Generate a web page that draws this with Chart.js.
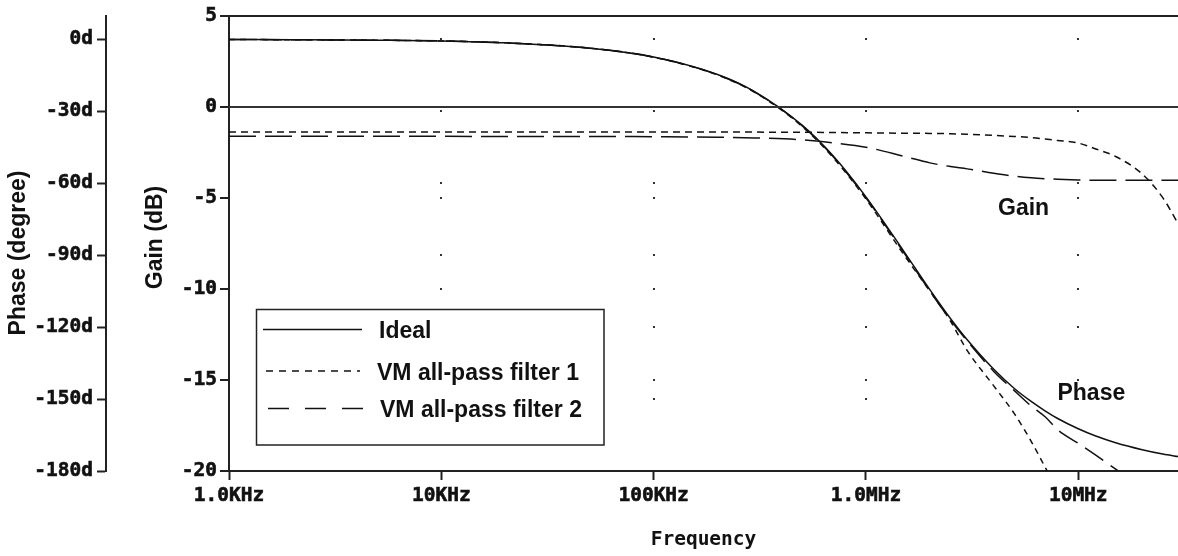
<!DOCTYPE html>
<html>
<head>
<meta charset="utf-8">
<title>All-pass filter gain and phase</title>
<script src="https://cdn.jsdelivr.net/npm/chart.js@4.4.1/dist/chart.umd.min.js"></script>
<style>
    html, body { margin: 0; padding: 0; background: #ffffff; }
    #wrap { position: relative; width: 1178px; height: 556px; }
</style>
</head>
<body>
<div id="wrap"><canvas id="bodeChart"></canvas></div>
<script>
// Values (frequency in Hz, gain in dB, phase in degrees)
const frequencies = [
    1e3, 2e3, 5e3, 1e4, 2e4, 5e4, 1e5, 2e5, 3e5, 5e5, 7e5,
    1e6, 1.5e6, 2e6, 2.5e6, 3e6, 4e6, 5e6, 6e6, 7e6, 8e6,
    1e7, 1.2e7, 1.5e7, 2e7, 2.5e7, 3e7
];

const gainIdeal = [
    0, 0, 0, 0, 0, 0, 0, 0, 0, 0, 0,
    0, 0, 0, 0, 0, 0, 0, 0, 0, 0,
    0, 0, 0, 0, 0, 0
];
const gainVm1 = [
    -1.38, -1.38, -1.38, -1.38, -1.38, -1.38, -1.38, -1.38, -1.38, -1.39, -1.40,
    -1.42, -1.44, -1.45, -1.47, -1.50, -1.56, -1.62, -1.68, -1.76, -1.84,
    -1.98, -2.29, -2.72, -3.68, -4.98, -6.55
];
const gainVm2 = [
    -1.61, -1.61, -1.61, -1.61, -1.62, -1.62, -1.63, -1.66, -1.70, -1.80, -1.97,
    -2.21, -2.70, -3.07, -3.27, -3.40, -3.64, -3.80, -3.89, -3.94, -3.97,
    -4.01, -4.03, -4.03, -4.03, -4.03, -4.03
];

const phaseIdeal = [
    -0.1, -0.2, -0.4, -0.7, -1.5, -3.7, -7.4, -14.7, -21.9, -35.8, -48.6,
    -65.7, -88.1, -104.4, -116.4, -125.3, -137.6, -145.6, -151.0, -155.0, -158.1,
    -162.4, -165.3, -168.2, -171.1, -172.9, -174.1
];
const phaseVm1 = [
    -0.1, -0.2, -0.4, -0.7, -1.5, -3.7, -7.5, -14.9, -22.2, -36.3, -49.3,
    -66.6, -89.5, -105.0, -117.5, -129.8, -144.5, -156.1, -167.6, -178.6, -188.2,
    -204.0, -218.0, -238.0, -265.0, -290.0, -310.0
];
const phaseVm2 = [
    -0.1, -0.2, -0.4, -0.7, -1.5, -3.7, -7.4, -14.8, -22.0, -36.0, -48.9,
    -66.1, -88.6, -105.0, -117.0, -125.8, -138.5, -146.5, -152.9, -157.5, -162.8,
    -168.5, -173.2, -179.2, -187.0, -193.0, -198.0
];

const freqTickValues = [1e3, 1e4, 1e5, 1e6, 1e7];
const freqTickLabels = ["1.0KHz", "10KHz", "100KHz", "1.0MHz", "10MHz"];
const gainTickValues = [5, 0, -5, -10, -15, -20];
const phaseTickValues = [0, -30, -60, -90, -120, -150, -180];
const seriesLabels = ["Ideal", "VM all-pass filter 1", "VM all-pass filter 2"];

const INK = "#111111";
const AXIS = "#222222";
const monoFont = { family: "'DejaVu Sans Mono', monospace", size: 19.5, weight: "bold" };
const sansBold = "bold 23px 'Liberation Sans', Arial, sans-serif";

function toPoints(values) {
    return frequencies.map((freq, index) => ({ x: freq, y: values[index] }));
}

function fixedTicks(values) {
    return scale => { scale.ticks = values.map(value => ({ value })); };
}

// PSpice only marks grid intersections with single dots
const gridDotsPlugin = {
    id: "gridDots",
    beforeDatasetsDraw(chart) {
        const { ctx, scales } = chart;
        ctx.save();
        ctx.fillStyle = "#333333";
        freqTickValues.slice(1).forEach(freq => {
            const x = Math.round(scales.x.getPixelForValue(freq));
            gainTickValues.slice(1, -1).forEach(value => {
                const y = Math.round(scales.gain.getPixelForValue(value));
                ctx.fillRect(x - 1, y - 1, 2, 2);
            });
            phaseTickValues.slice(0, -1).forEach(value => {
                const y = Math.round(scales.phase.getPixelForValue(value));
                ctx.fillRect(x - 1, y - 1, 2, 2);
            });
        });
        ctx.restore();
    }
};

const annotationsPlugin = {
    id: "plotAnnotations",
    afterDatasetsDraw(chart) {
        const { ctx, scales } = chart;
        ctx.save();
        ctx.fillStyle = INK;
        ctx.font = sansBold;
        ctx.textAlign = "left";
        ctx.textBaseline = "alphabetic";
        ctx.fillText("Gain", scales.x.getPixelForValue(4.19e6), scales.gain.getPixelForValue(-5.92));
        ctx.fillText("Phase", scales.x.getPixelForValue(7.98e6), scales.phase.getPixelForValue(-150.2));

        // rotated axis titles
        const titles = [
            { text: "Phase (degree)", x: 25, y: 253 },
            { text: "Gain (dB)", x: 162, y: 237.5 }
        ];
        titles.forEach(title => {
            ctx.save();
            ctx.translate(title.x, title.y);
            ctx.rotate(-Math.PI / 2);
            ctx.textAlign = "center";
            ctx.fillText(title.text, 0, 0);
            ctx.restore();
        });
        ctx.restore();
    }
};

const legendBoxPlugin = {
    id: "legendBox",
    afterDraw(chart) {
        const { ctx } = chart;
        const rows = [
            { line: [263, 362], lineY: 329.5, dash: [], textX: 379, baseline: 337.5 },
            { line: [266, 360], lineY: 371, dash: [7, 6], textX: 377, baseline: 380 },
            { line: [268, 365], lineY: 408.5, dash: [21, 16], textX: 380, baseline: 417 }
        ];

        ctx.save();
        ctx.fillStyle = "#ffffff";
        ctx.fillRect(256, 309, 348, 136);
        ctx.strokeStyle = AXIS;
        ctx.lineWidth = 1.5;
        ctx.strokeRect(256.5, 309.5, 347.5, 135.5);

        ctx.font = sansBold;
        ctx.fillStyle = INK;
        ctx.textAlign = "left";
        ctx.textBaseline = "alphabetic";
        rows.forEach((row, index) => {
            const dataset = chart.data.datasets[index];
            ctx.beginPath();
            ctx.setLineDash(row.dash);
            ctx.lineWidth = 1.6;
            ctx.strokeStyle = INK;
            ctx.moveTo(row.line[0], row.lineY);
            ctx.lineTo(row.line[1], row.lineY);
            ctx.stroke();
            ctx.fillText(dataset.label, row.textX, row.baseline);
        });
        ctx.restore();
    }
};

const lineBase = {
    borderColor: INK,
    borderWidth: 1.5,
    pointRadius: 0,
    fill: false,
    cubicInterpolationMode: "monotone"
};

const tickText = {
    color: INK,
    font: monoFont,
    textStrokeColor: INK,
    textStrokeWidth: 0.6
};

new Chart(document.getElementById("bodeChart"), {
    type: "line",
    data: {
        datasets: [
            { ...lineBase, label: seriesLabels[0], data: toPoints(gainIdeal), yAxisID: "gain", borderWidth: 2.2, borderColor: "#333333" },
            { ...lineBase, label: seriesLabels[1], data: toPoints(gainVm1), yAxisID: "gain", borderDash: [7, 5] },
            { ...lineBase, label: seriesLabels[2], data: toPoints(gainVm2), yAxisID: "gain", borderDash: [27, 9] },
            { ...lineBase, label: seriesLabels[0], data: toPoints(phaseIdeal), yAxisID: "phase" },
            { ...lineBase, label: seriesLabels[1], data: toPoints(phaseVm1), yAxisID: "phase", borderDash: [6, 5] },
            { ...lineBase, label: seriesLabels[2], data: toPoints(phaseVm2), yAxisID: "phase", borderDash: [22, 9] }
        ]
    },
    options: {
        responsive: true,
        maintainAspectRatio: false,
        animation: false,
        events: [],
        layout: { padding: { top: 16, right: 0, bottom: 0, left: 0 } },
        plugins: {
            legend: { display: false },
            tooltip: { enabled: false }
        },
        scales: {
            x: {
                type: "logarithmic",
                position: "bottom",
                min: 1e3,
                max: 2.95e7,
                afterBuildTicks: fixedTicks(freqTickValues),
                afterFit: scale => { scale.height = 85; },
                ticks: {
                    ...tickText,
                    padding: 4,
                    maxRotation: 0,
                    autoSkip: false,
                    callback: (value, index) => freqTickLabels[index]
                },
                grid: { drawOnChartArea: false, tickLength: 9, tickColor: AXIS, tickWidth: 2 },
                border: { display: true, color: AXIS, width: 2 },
                title: {
                    display: true,
                    text: "Frequency",
                    color: INK,
                    font: monoFont,
                    padding: { top: 0, bottom: 4 }
                }
            },
            gain: {
                type: "linear",
                position: "left",
                weight: 0,
                min: -20,
                max: 5,
                afterBuildTicks: fixedTicks(gainTickValues),
                afterFit: scale => { scale.width = 123; },
                ticks: { ...tickText, padding: 3, callback: value => String(value) },
                grid: {
                    color: context => (context.tick && context.tick.value === 5 ? AXIS : "rgba(0,0,0,0)"),
                    lineWidth: 2,
                    tickLength: 9,
                    tickColor: AXIS,
                    tickWidth: 2
                },
                border: { display: true, color: AXIS, width: 2 }
            },
            phase: {
                type: "linear",
                position: "left",
                weight: 1,
                min: -180,
                max: 9.7,
                afterBuildTicks: fixedTicks(phaseTickValues),
                afterFit: scale => { scale.width = 106; },
                ticks: { ...tickText, padding: 4, callback: value => value + "d" },
                grid: { drawOnChartArea: false, tickLength: 9, tickColor: AXIS, tickWidth: 2 },
                border: { display: true, color: AXIS, width: 2 }
            }
        }
    },
    plugins: [gridDotsPlugin, annotationsPlugin, legendBoxPlugin]
});
</script>
</body>
</html>
